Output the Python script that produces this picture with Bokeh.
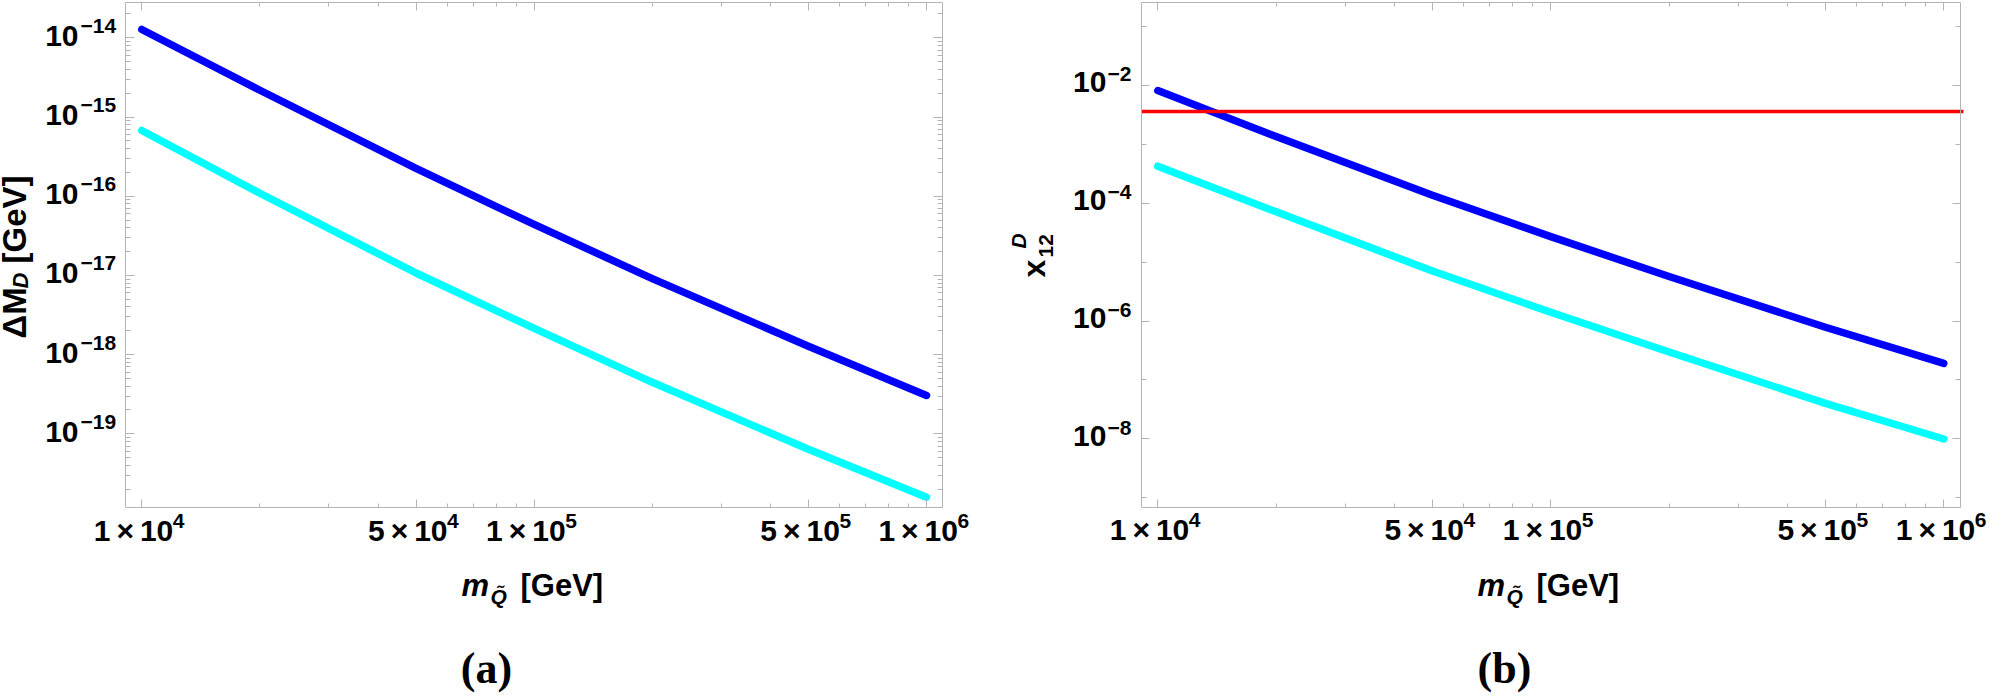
import math
from bokeh.plotting import figure
from bokeh.models import (ColumnDataSource, FixedTicker, LogAxis, Label, LabelSet,
                          Range1d, CustomJSTickFormatter)
from bokeh.core.properties import value
from bokeh.layouts import row
from bokeh.embed import file_html
from bokeh.resources import INLINE

# ---------------- data ----------------
mq = [1e4, 2e4, 5e4, 1e5, 2e5, 5e5, 1e6]            # m_Q~ [GeV]
dm_blue = [1.274e-14, 2.178e-15, 2.239e-16, 4.395e-17, 9.12e-18, 1.274e-18, 3.048e-19]
dm_cyan = [6.761e-16, 1.091e-16, 1.072e-17, 2.138e-18, 4.467e-19, 6.383e-20, 1.585e-20]
x12_blue = [8.222e-3, 1.355e-3, 1.365e-4, 2.716e-5, 5.689e-6, 7.834e-7, 1.910e-7]
x12_cyan = [4.256e-4, 7.161e-5, 7.079e-6, 1.406e-6, 2.985e-7, 3.999e-8, 9.908e-9]
x12_limit = 3.6e-3

# ticks
x_major = [1e4, 5e4, 1e5, 5e5, 1e6]
x_major_mant = ["1", "5", "1", "5", "1"]
x_major_exp = ["4", "4", "5", "5", "6"]
x_minor = [2e4, 3e4, 4e4, 6e4, 7e4, 8e4, 9e4, 2e5, 3e5, 4e5, 6e5, 7e5, 8e5, 9e5]
a_y_major = [1e-14, 1e-15, 1e-16, 1e-17, 1e-18, 1e-19]
a_y_exp = ["\u221214", "\u221215", "\u221216", "\u221217", "\u221218", "\u221219"]
a_y_minor = [k * 10.0 ** e for e in range(-20, -13) for k in range(2, 10)]
b_y_major = [1e-2, 1e-4, 1e-6, 1e-8]
b_y_exp = ["\u22122", "\u22124", "\u22126", "\u22128"]
b_y_minor = [1e-1, 1e-3, 1e-5, 1e-7, 1e-9]

GRAY = "#b4b4b4"
BLUE = "#0000ff"
CYAN = "#00ffff"
SANS = "Liberation Sans"
SERIF = "Liberation Serif"
MAIN = "30px"
SUP = "21px"


def inside(ticks, lo, hi):
    return [t for t in ticks if lo <= t <= hi]


def box_axis(p, side, loc, bounds, major, minor, maj_len, min_len):
    ax = LogAxis(fixed_location=loc, bounds=bounds)
    ax.ticker = FixedTicker(ticks=inside(major, *bounds), minor_ticks=inside(minor, *bounds))
    ax.formatter = CustomJSTickFormatter(code="return ''")
    ax.major_label_text_font_size = "0px"
    ax.major_label_standoff = 0
    ax.major_tick_in = maj_len
    ax.major_tick_out = 0
    ax.minor_tick_in = min_len
    ax.minor_tick_out = 0
    ax.major_tick_line_color = GRAY
    ax.minor_tick_line_color = GRAY
    ax.axis_line_color = GRAY
    ax.axis_line_width = 1
    p.add_layout(ax, side)


class Panel:
    """A figure whose frame is the whole canvas; the visible box is drawn by fixed axes."""

    def __init__(self, width, xf, yf, xb, yb, ymaj, ymin, ymaj_len, ymin_len):
        self.xd = width / (xf[1] - xf[0])        # pixels per decade
        self.yd = 696 / (yf[1] - yf[0])
        self.xb, self.yb = xb, yb
        p = figure(width=width, height=696, x_axis_type="log", y_axis_type="log",
                   x_range=Range1d(10 ** xf[0], 10 ** xf[1]),
                   y_range=Range1d(10 ** yf[0], 10 ** yf[1]),
                   x_axis_location=None, y_axis_location=None, min_border=0,
                   output_backend="svg", toolbar_location=None)
        p.min_border_left = p.min_border_right = p.min_border_top = p.min_border_bottom = 0
        p.grid.visible = False
        p.outline_line_color = None
        p.background_fill_color = "white"
        p.border_fill_color = "white"
        xbnd = (10 ** xb[0], 10 ** xb[1])
        ybnd = (10 ** yb[0], 10 ** yb[1])
        box_axis(p, "below", ybnd[0], xbnd, x_major, x_minor, 8, 4)
        box_axis(p, "above", ybnd[1], xbnd, x_major, x_minor, 8, 4)
        box_axis(p, "left", xbnd[0], ybnd, ymaj, ymin, ymaj_len, ymin_len)
        box_axis(p, "right", xbnd[1], ybnd, ymaj, ymin, ymaj_len, ymin_len)
        self.p = p

    # position relative to the box's bottom-left corner, in pixels (up = +)
    def px(self, dx):
        return 10 ** (self.xb[0] + dx / self.xd)

    def py(self, dy):
        return 10 ** (self.yb[0] + dy / self.yd)

    def tick_labels(self, ymaj, yexp, ym_dx, ys_dx, ym_dy, ys_dy):
        p = self.p
        common = dict(text_baseline="alphabetic", text_font=value(SANS),
                      text_font_style="bold", text_color="black")
        src_xm = ColumnDataSource(dict(x=[t * 10 ** (31.5 / self.xd) for t in x_major],
                                       y=[self.py(-33)] * len(x_major),
                                       t=[s + "\u2009\u00d7\u200910" for s in x_major_mant]))
        src_xe = ColumnDataSource(dict(x=[t * 10 ** (31 / self.xd) for t in x_major],
                                       y=[self.py(-20)] * len(x_major), t=x_major_exp))
        src_ym = ColumnDataSource(dict(x=[self.px(ym_dx)] * len(ymaj),
                                       y=[t * 10 ** (ym_dy / self.yd) for t in ymaj],
                                       t=["10"] * len(ymaj)))
        src_ye = ColumnDataSource(dict(x=[self.px(ys_dx)] * len(ymaj),
                                       y=[t * 10 ** (ys_dy / self.yd) for t in ymaj], t=yexp))
        p.add_layout(LabelSet(x="x", y="y", text="t", source=src_xm, text_align="right",
                              text_font_size=MAIN, **common))
        p.add_layout(LabelSet(x="x", y="y", text="t", source=src_xe, text_align="left",
                              text_font_size=SUP, **common))
        p.add_layout(LabelSet(x="x", y="y", text="t", source=src_ym, text_align="right",
                              text_font_size=MAIN, **common))
        p.add_layout(LabelSet(x="x", y="y", text="t", source=src_ye, text_align="left",
                              text_font_size=SUP, **common))

    def lab(self, text, dx, dy, size, style="bold", angle=0.0, align="left", font=SANS):
        self.p.add_layout(Label(x=self.px(dx), y=self.py(dy), text=text, angle=angle,
                                text_align=align, text_baseline="alphabetic",
                                text_font=font, text_font_style=style,
                                text_font_size=size, text_color="black"))

    def x_title(self):
        self.lab("m", 336, -78, "31px", "bold italic")
        self.lab("Q\u0303", 365, -89, SUP, "bold italic")
        self.lab("[GeV]", 395, -78, "31px", "bold")


# ---------------- panel (a) ----------------
A = Panel(998, (3.6399, 6.1835), (-22.317, -13.529), (3.9585, 6.0408), (-19.931, -13.554),
          a_y_major, a_y_minor, 9, 5)
A.p.line(mq, dm_cyan, line_color=CYAN, line_width=7.5, line_cap="round", line_join="round")
A.p.line(mq, dm_blue, line_color=BLUE, line_width=7.5, line_cap="round", line_join="round")
A.tick_labels(a_y_major, a_y_exp, -47, -45, -8, 5)
A.x_title()
A.lab("\u0394M", -111, 169, "33px", "bold", angle=math.pi / 2)
A.lab("D", -105, 219, "22px", "bold italic", angle=math.pi / 2)
A.lab("[GeV]", -111, 244, "33px", "bold", angle=math.pi / 2)
A.lab("(a)", 361, -161, "44px", "bold", align="center", font=SERIF)

# ---------------- panel (b) ----------------
B = Panel(992, (3.5947, 6.1189), (-12.377, -0.5564), (3.9585, 6.0425), (-9.167, -0.590),
          b_y_major, b_y_minor, 8, 5)
B.p.line(mq, x12_cyan, line_color=CYAN, line_width=7.5, line_cap="round", line_join="round")
B.p.line(mq, x12_blue, line_color=BLUE, line_width=7.5, line_cap="round", line_join="round")
B.p.segment(x0=[B.px(0)], y0=[x12_limit], x1=[B.px(822)], y1=[x12_limit],
            line_color="#ff0000", line_width=3.5)
B.tick_labels(b_y_major, b_y_exp, -35, -34, -7, 4)
B.x_title()
B.lab("x", -107, 230, "32px", "bold", angle=math.pi / 2)
B.lab("12", -95, 250, SUP, "bold", angle=math.pi / 2)
B.lab("D", -123, 259, SUP, "bold italic", angle=math.pi / 2)
B.lab("(b)", 363, -161, "44px", "bold", align="center", font=SERIF)

layout = row(A.p, B.p)
open("out.html", "w").write(file_html(layout, INLINE))
